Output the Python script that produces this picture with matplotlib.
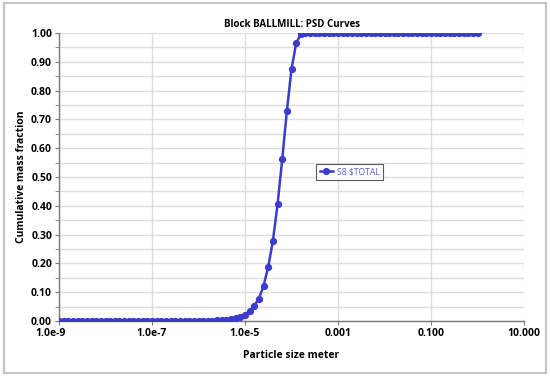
import numpy as np
import matplotlib
matplotlib.use("Agg")
import matplotlib.pyplot as plt
import matplotlib.patches as patches
import matplotlib.transforms as mtransforms
from matplotlib.ticker import FixedLocator, MultipleLocator

# -------------------------
# Data (PSD grid: 10 points per decade, 1e-9 .. 1 m)
# -------------------------
size_exp_start = -9
size_exp_end = 0
n_points = 91
sizes = np.logspace(size_exp_start, size_exp_end, n_points)

cum_fraction = (
    [0.0] * 33
    + [0.001, 0.002, 0.003, 0.004, 0.006, 0.009, 0.015]
    + [0.022, 0.035, 0.053, 0.078, 0.122, 0.189, 0.278, 0.405,
       0.561, 0.728, 0.875, 0.964, 0.997]
    + [1.0] * 38
)

series_name = r"S8 \$TOTAL"
title = "Block BALLMILL: PSD Curves"
x_label = "Particle size meter"
y_label = "Cumulative mass fraction"

x_ticks = [1e-9, 1e-7, 1e-5, 1e-3, 1e-1, 10]
x_tick_labels = ["1.0e-9", "1.0e-7", "1.0e-5", "0.001", "0.100", "10.000"]
y_ticks = [0.0, 0.1, 0.2, 0.3, 0.4, 0.5, 0.6, 0.7, 0.8, 0.9, 1.0]

line_color = "#3b3bcc"

plt.rcParams["font.family"] = ["Open Sans", "DejaVu Sans"]

fig = plt.figure(figsize=(5.5, 3.78), dpi=100)
W, H = 550, 378

# outer frame
frame = patches.Rectangle((4 / W, 5 / H), 542 / W, 370 / H, transform=fig.transFigure,
                          fill=False, edgecolor="#c6c6c6", lw=1.6)
fig.patches.append(frame)

ax = fig.add_axes([59 / W, 1 - 321 / H, 465 / W, 288 / H])

ax.plot(sizes, cum_fraction, color=line_color, lw=1.8, marker="o", ms=4.2,
        label=series_name, zorder=3)

ax.set_xscale("log")
ax.set_xlim(1e-9, 10)
ax.set_ylim(0, 1.0)

ax.xaxis.set_major_locator(FixedLocator(x_ticks))
ax.xaxis.set_minor_locator(FixedLocator([]))
ax.set_xticklabels(x_tick_labels)
ax.set_yticks(y_ticks)
ax.set_yticklabels([f"{v:.2f}" for v in y_ticks])
ax.yaxis.set_minor_locator(MultipleLocator(0.05))

ax.grid(True, which="major", axis="x", color="#dedede", lw=1.0)
ax.grid(True, which="both", axis="y", color="#dedede", lw=1.0)
ax.set_axisbelow(True)

for s in ["top", "right"]:
    ax.spines[s].set_visible(False)
for s in ["left", "bottom"]:
    ax.spines[s].set_color("#7a7a7a")
    ax.spines[s].set_linewidth(1.0)

ax.tick_params(axis="both", which="both", direction="out", color="#7a7a7a",
               labelsize=7.5, length=3, pad=2)
ax.tick_params(axis="y", which="minor", length=3)
for lab in ax.get_xticklabels() + ax.get_yticklabels():
    lab.set_fontweight("bold")

# first x label sits a bit to the left in the original
first = ax.get_xticklabels()[0]
first.set_transform(first.get_transform() +
                    mtransforms.ScaledTranslation(-8 / 100, 0, fig.dpi_scale_trans))

ax.set_title(title, fontsize=7, fontweight="bold", pad=4)
ax.set_xlabel(x_label, fontsize=7.5, fontweight="bold", labelpad=8)
ax.set_ylabel(y_label, fontsize=7.5, fontweight="bold", labelpad=3)

leg = ax.legend(loc="upper left", bbox_to_anchor=(0.553, 0.545), fontsize=6.2,
                frameon=True, fancybox=False, edgecolor="#333333",
                handlelength=1.5, borderpad=0.4, handletextpad=0.5,
                borderaxespad=0)
leg.get_frame().set_linewidth(0.8)
for t in leg.get_texts():
    t.set_color("#5b5bd6")

fig.savefig("out.png", dpi=100)
